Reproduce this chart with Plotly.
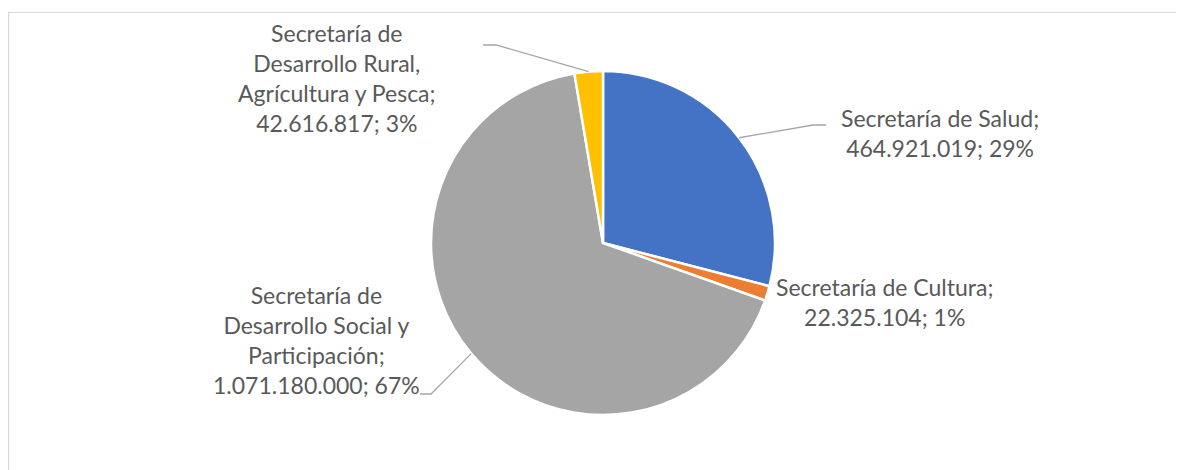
import math
import plotly.graph_objects as go

categories = ["Secretaría de Salud", "Secretaría de Cultura",
              "Secretaría de Desarrollo Social y Participación",
              "Secretaría de Desarrollo Rural, Agrícultura y Pesca"]
values = [464921019, 22325104, 1071180000, 42616817]
value_labels = ["464.921.019", "22.325.104", "1.071.180.000", "42.616.817"]
pct_labels = ["29%", "1%", "67%", "3%"]
colors = ["#4472C4", "#ED7D31", "#A5A5A5", "#FFC000"]

W, H = 1184, 470
OFF = 8  # page body margin offset
CX, CY, R = 603 - OFF, 243 - OFF, 172  # pie centre / radius in pixels

fig = go.Figure(go.Pie(
    labels=categories, values=values, sort=False, direction="clockwise",
    rotation=0, textinfo="none", hoverinfo="label+value+percent",
    marker=dict(colors=colors, line=dict(color="white", width=2.5)),
    domain=dict(x=[(CX - R) / W, (CX + R) / W], y=[(H - CY - R) / H, (H - CY + R) / H]),
    showlegend=False,
))

texts = [
    "Secretaría de Salud;<br>" + value_labels[0] + "; " + pct_labels[0],
    "Secretaría de Cultura;<br>" + value_labels[1] + "; " + pct_labels[1],
    "Secretaría de<br>Desarrollo Social y<br>Participación;<br>" + value_labels[2] + "; " + pct_labels[2],
    "Secretaría de<br>Desarrollo Rural,<br>Agrícultura y Pesca;<br>" + value_labels[3] + "; " + pct_labels[3],
]
label_pos = [(940, 133), (884, 302), (316, 340), (337, 78)]
leader = [((813, 125), (826, 125)), None, ((431, 394), (420, 394)), ((496, 45), (483, 45))]

def px(x, y):
    return (x - OFF) / W, 1 - (y - OFF) / H

total = sum(values)
cum = 0
shapes = []
for i, v in enumerate(values):
    mid = (cum + v / 2) / total * 2 * math.pi
    cum += v
    if leader[i] is None:
        continue
    sx = CX + OFF + R * math.sin(mid)
    sy = CY + OFF - R * math.cos(mid)
    (ex, ey), (fx, fy) = leader[i]
    a = px(sx, sy); b = px(ex, ey); c = px(fx, fy)
    shapes.append(dict(type="path", xref="paper", yref="paper",
                       path=f"M {a[0]},{a[1]} L {b[0]},{b[1]} L {c[0]},{c[1]}",
                       line=dict(color="#A6A6A6", width=1.3)))

shapes.append(dict(type="rect", xref="paper", yref="paper",
                   x0=0.6 / W, x1=1.02, y0=-0.02, y1=1 - 4.5 / H,
                   line=dict(color="#D9D9D9", width=1.2), fillcolor="rgba(0,0,0,0)", layer="below"))

annotations = []
for t, (x, y) in zip(texts, label_pos):
    ax, ay = px(x, y)
    annotations.append(dict(text=t, x=ax, y=ay, xref="paper", yref="paper",
                            showarrow=False, align="center", xanchor="center", yanchor="middle",
                            font=dict(family="Lato, sans-serif", size=23, color="#595959")))

fig.update_layout(width=W, height=H, margin=dict(l=0, r=0, t=0, b=0),
                  paper_bgcolor="white", plot_bgcolor="white",
                  shapes=shapes, annotations=annotations)

fig.write_html("out.html")
